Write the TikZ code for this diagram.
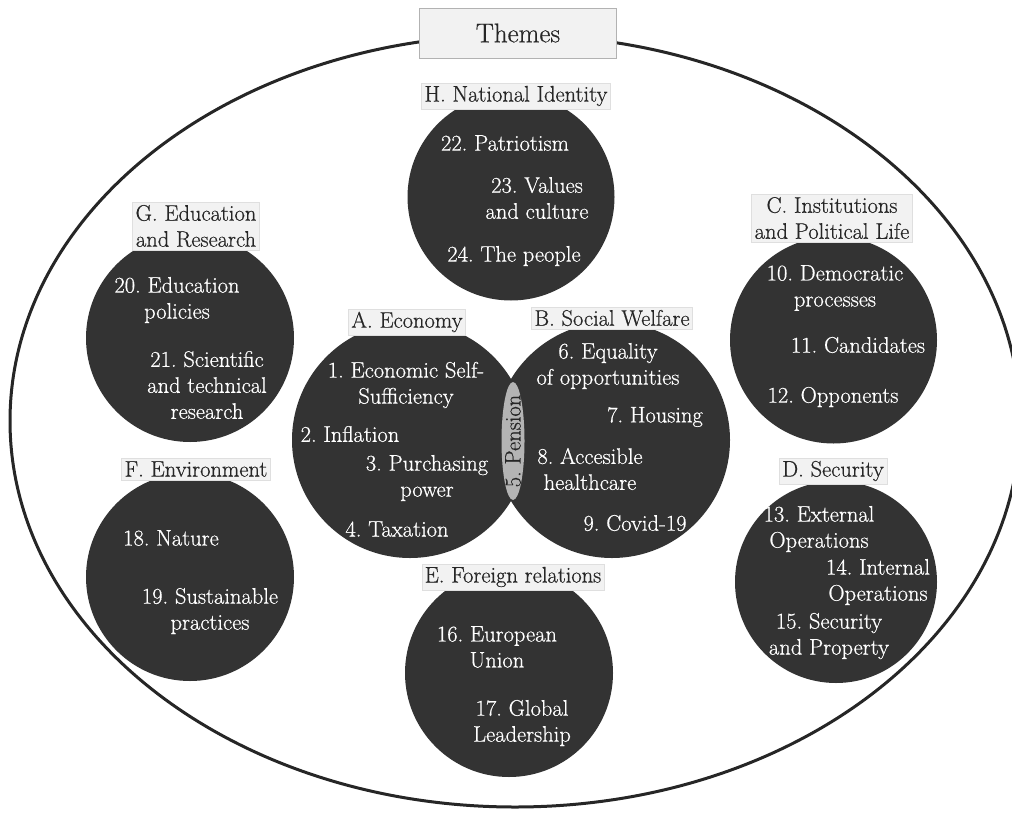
\documentclass[tikz,border=0pt]{standalone}
\usepackage{fontspec}
\newfontfamily\Epais{Latin Modern Roman}[FakeBold=0.6]
\usepackage{tikz}
\usepackage{xcolor}
\usetikzlibrary{shapes.geometric}
\definecolor{Fond}{RGB}{51,51,51}
\definecolor{Clair}{RGB}{242,242,242}
\definecolor{GrisPension}{RGB}{180,180,180}
\tikzset{
Bulle/.style={
 circle, 
 fill=Fond, 
 inner sep=0pt, 
 minimum size=#1
 },
Bulle/.default={208pt},
Etiquette/.style={
 fill=Clair, 
 draw=gray!25, 
 text=black!85, 
 inner xsep=3pt, 
 inner ysep=3pt, 
 align=center, 
 font=\Epais\fontsize{22.5}{26}\selectfont
 },
Sujet/.style={
 text=white, 
 align=center, 
 inner sep=0pt, 
 font=\Epais\fontsize{22.5}{26}\selectfont
 },
Ovale/.style={
 ellipse, 
 fill=GrisPension, 
 inner sep=0pt, 
 minimum width=23pt, 
 minimum height=118pt
 }
}
\begin{document}
\frenchspacing
\begin{tikzpicture}[x=1pt,y=-1pt]
\useasboundingbox (0,0) rectangle (1012,814);
% contour
\draw[line width=3pt,draw=black!85] (515,421) ellipse [x radius=505pt, y radius=386pt];
\node[Etiquette,draw=gray!60,minimum width=197pt,minimum height=50pt,font=\Epais\fontsize{27}{30}\selectfont] (titre) at (518,33) {Themes};
% bulles
\node[Bulle=207pt] (H) at (511,197) {};
\node[Bulle] (G) at (190,338) {};
\node[Bulle] (F) at (190,577) {};
\node[Bulle=236pt] (A) at (410,440) {};
\node[Bulle=236pt] (B) at (612,440) {};
\node[Bulle=207pt] (C) at (833.5,340) {};
\node[Bulle=202pt] (D) at (836,582) {};
\node[Bulle] (E) at (509,673) {};
\node[Ovale] (P) at (513,441) {};
\node[rotate=90,text=black!85,inner sep=0pt,font=\Epais\fontsize{22.5}{26}\selectfont] (s5) at (P) {5. Pension};
% etiquettes
\node[Etiquette] (tH) at (516,96) {H. National Identity};
\node[Etiquette] (tG) at (196,226) {G. Education\\and Research};
\node[Etiquette] (tA) at (407,322) {A. Economy};
\node[Etiquette] (tB) at (612,318) {B. Social Welfare};
\node[Etiquette] (tC) at (832,218) {C. Institutions\\and Political Life};
\node[Etiquette] (tD) at (833,471) {D. Security};
\node[Etiquette] (tF) at (196,469) {F. Environment};
\node[Etiquette] (tE) at (513,577) {E. Foreign relations};
% sujets
\node[Sujet] (s1) at (406,385) {1. Economic Self-\\Sufficiency};
\node[Sujet] (s2) at (350,434) {2. Inflation};
\node[Sujet] (s3) at (427,478) {3. Purchasing\\power};
\node[Sujet] (s4) at (397,529) {4. Taxation};
\node[Sujet] (s6) at (608,366) {6. Equality\\of opportunities};
\node[Sujet] (s7) at (655,417) {7. Housing};
\node[Sujet] (s8) at (590,469) {8. Accesible\\healthcare};
\node[Sujet] (s9) at (635,523) {9. Covid-19};
\node[Sujet] (s10) at (835,288) {10. Democratic\\processes};
\node[Sujet] (s11) at (858,345) {11. Candidates};
\node[Sujet] (s12) at (833,397) {12. Opponents};
\node[Sujet] (s13) at (819,529) {13. External\\Operations};
\node[Sujet] (s14) at (878,582) {14. Internal\\Operations};
\node[Sujet] (s15) at (829,636) {15. Security\\and Property};
\node[Sujet] (s16) at (497,647) {16. European\\Union};
\node[Sujet] (s17) at (522,723) {17. Global\\Leadership};
\node[Sujet] (s18) at (171,538) {18. Nature};
\node[Sujet] (s19) at (210,611) {19. Sustainable\\practices};
\node[Sujet] (s20) at (177,300) {20. Education\\policies};
\node[Sujet] (s21) at (207,385) {21. Scientific\\and technical\\research};
\node[Sujet] (s22) at (505,143) {22. Patriotism};
\node[Sujet] (s23) at (537,198) {23. Values\\and culture};
\node[Sujet] (s24) at (514,256) {24. The people};
\end{tikzpicture}
\end{document}
